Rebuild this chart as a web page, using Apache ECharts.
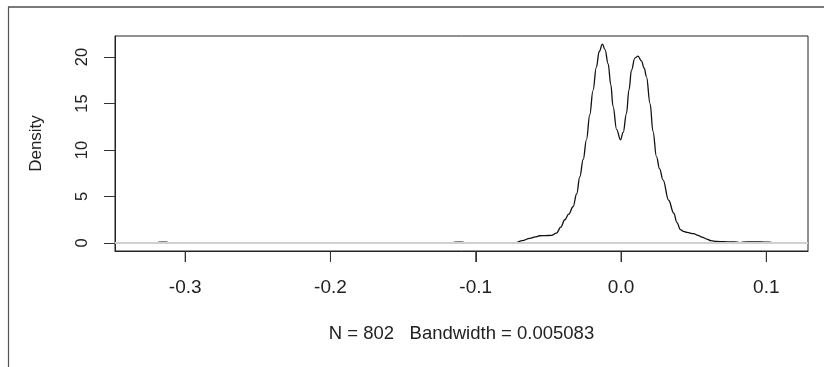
<!DOCTYPE html>
<html>
<head>
<meta charset="utf-8">
<script src="https://cdn.jsdelivr.net/npm/echarts@6/dist/echarts.min.js"></script>
<style>
  html, body { margin: 0; padding: 0; background: #ffffff; }
  #chart { width: 824px; height: 367px; }
</style>
</head>
<body>
<div id="chart"></div>
<script>
// Kernel density estimate of returns (N = 802, bandwidth 0.005083)
const densityX = [
  -0.3306, -0.3220, -0.3195, -0.3175, -0.3153, -0.3131, -0.3111, -0.3086, -0.2900,
  -0.1300, -0.1183, -0.1160, -0.1138, -0.1116, -0.1094, -0.1072, -0.1049, -0.0900,
  -0.0760, -0.0724, -0.0680, -0.0628, -0.0590, -0.0559, -0.0520, -0.0479, -0.0444,
  -0.0415, -0.0387, -0.0360, -0.0330, -0.0305, -0.0284, -0.0260, -0.0238, -0.0215,
  -0.0193, -0.0170, -0.0150, -0.0128, -0.0110, -0.0089, -0.0070, -0.0055, -0.0030,
  -0.0004, 0.0015, 0.0037, 0.0055, 0.0072, 0.0095, 0.0117, 0.0140, 0.0160,
  0.0175, 0.0200, 0.0220, 0.0244, 0.0265, 0.0289, 0.0328, 0.0363, 0.0385,
  0.0409, 0.0430, 0.0454, 0.0500, 0.0530, 0.0557, 0.0590, 0.0619, 0.0660,
  0.0707, 0.0760, 0.0798, 0.0820, 0.0839, 0.0900, 0.0960, 0.1016, 0.1050, 0.1110
];
const densityY = [
  0.00, 0.00, 0.03, 0.08, 0.10, 0.08, 0.03, 0.00, 0.00,
  0.00, 0.00, 0.03, 0.08, 0.10, 0.08, 0.03, 0.00, 0.00,
  0.00, 0.05, 0.25, 0.50, 0.65, 0.78, 0.80, 0.82, 1.07,
  1.70, 2.50, 3.10, 3.90, 5.30, 7.10, 9.00, 11.10, 13.80,
  16.40, 18.90, 20.60, 21.40, 20.80, 19.30, 17.00, 14.70, 12.20,
  11.10, 11.90, 13.90, 16.50, 18.60, 19.90, 20.10, 19.60, 18.80,
  17.90, 15.00, 12.00, 9.30, 8.00, 6.80, 4.60, 3.20, 2.20,
  1.43, 1.25, 1.14, 1.00, 0.82, 0.64, 0.42, 0.25, 0.17,
  0.14, 0.12, 0.10, 0.03, 0.10, 0.12, 0.11, 0.10, 0.02, 0.00
];
const xTicks = [-0.3, -0.2, -0.1, 0.0, 0.1];
const yTicks = [0, 5, 10, 15, 20];
const xRange = [-0.3483, 0.1287];
const yRange = [-0.86, 22.27];
const xTitle = 'N = 802   Bandwidth = 0.005083';
const yTitle = 'Density';

const points = densityX.map((x, i) => [x, densityY[i]]);
const TICK_LEN = 11;

const chart = echarts.init(document.getElementById('chart'), null, { renderer: 'canvas' });
const textFont = 'Liberation Sans, Arial, sans-serif';

chart.setOption({
  animation: false,
  backgroundColor: '#ffffff',
  grid: {
    left: 115, top: 36, right: 16, bottom: 116,
    show: true, borderColor: '#222', borderWidth: 1
  },
  xAxis: {
    type: 'value',
    min: xRange[0], max: xRange[1],
    axisLine: { show: true, onZero: false, lineStyle: { color: '#222', width: 1 } },
    splitLine: { show: false },
    axisTick: { show: false },
    axisLabel: {
      customValues: xTicks, margin: 27, fontSize: 19, color: '#222', fontFamily: textFont,
      formatter: v => v.toFixed(1)
    },
    name: xTitle, nameLocation: 'middle', nameGap: 73,
    nameTextStyle: { fontSize: 18.5, color: '#222', fontFamily: textFont }
  },
  yAxis: {
    type: 'value',
    min: yRange[0], max: yRange[1],
    axisLine: { show: true, onZero: false, lineStyle: { color: '#222', width: 1 } },
    splitLine: { show: false },
    axisTick: { show: true, inside: false, length: TICK_LEN, customValues: yTicks, lineStyle: { color: '#333', width: 1 } },
    axisLabel: {
      customValues: yTicks, rotate: 90, margin: 24, fontSize: 16.5, color: '#222', fontFamily: textFont,
      formatter: v => String(v)
    },
    name: yTitle, nameLocation: 'middle', nameGap: 70, nameRotate: 90,
    nameTextStyle: { fontSize: 17, color: '#222', fontFamily: textFont }
  },
  series: [{
    type: 'line',
    data: points,
    clip: false,
    showSymbol: false,
    smooth: 0.4,
    smoothMonotone: 'x',
    lineStyle: { color: '#111', width: 1.3 },
    z: 2,
    markLine: {
      silent: true,
      symbol: 'none',
      label: { show: false },
      lineStyle: { color: '#d0d0d0', width: 2, type: 'solid' },
      data: [{ yAxis: 0 }],
      z: 5
    },
    // outward x-axis tick marks hanging below the plot box
    markPoint: {
      silent: true,
      symbol: 'rect',
      symbolSize: [1, TICK_LEN],
      symbolOffset: [0, TICK_LEN / 2],
      itemStyle: { color: '#333' },
      label: { show: false },
      data: xTicks.map(v => ({ coord: [v, yRange[0]] })),
      z: 10
    }
  }]
});

// outer frame plus tick lines, placed with the grid's own coordinate conversion
const frame = [
  { type: 'line', shape: { x1: 8, y1: 7, x2: 824, y2: 7 }, style: { stroke: '#7a7a7a', lineWidth: 2 }, z: 100 },
  { type: 'line', shape: { x1: 8.5, y1: 7, x2: 8.5, y2: 367 }, style: { stroke: '#555', lineWidth: 1.2 }, z: 100 }
];
const tickMarks = [];
xTicks.forEach(v => {
  const p = chart.convertToPixel({ gridIndex: 0 }, [v, yRange[0]]);
  if (p && isFinite(p[0]) && isFinite(p[1])) {
    const x = Math.round(p[0]) + 0.5;
    tickMarks.push({
      type: 'line',
      z: 100,
      shape: { x1: x, y1: Math.round(p[1]), x2: x, y2: Math.round(p[1]) + TICK_LEN },
      style: { stroke: '#333', lineWidth: 1 }
    });
  }
});
chart.setOption({ graphic: frame.concat(tickMarks) });
</script>
</body>
</html>
